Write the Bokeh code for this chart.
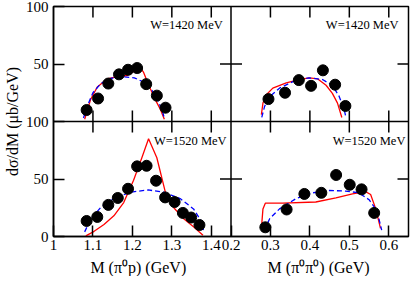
import numpy as np
from bokeh.plotting import figure
from bokeh.layouts import column
from bokeh.models import Range1d, LinearAxis, FixedTicker, Span
from bokeh.embed import file_html
from bokeh.resources import INLINE
from bokeh.core.properties import value

# ---------------- axes / ticks ----------------
left_ticks = [1.0, 1.1, 1.2, 1.3, 1.4]
left_tick_labels = ["1", "1.1", "1.2", "1.3", "1.4"]
right_ticks = [0.2, 0.3, 0.4, 0.5, 0.6]
right_tick_labels = ["0.2", "0.3", "0.4", "0.5", "0.6"]
y_ticks = [0, 50, 100]
y_tick_labels = ["0", "50", "100"]

left_lim = (1.0, 1.45)
right_lim = (0.2, 0.65)
y_lim = (0, 100)

ylabel = "dσ/dM (μb/GeV)"
xlabel_left = "M (π⁰p) (GeV)"
xlabel_right = "M (π⁰π⁰) (GeV)"
title_top = "W=1420 MeV"
title_bottom = "W=1520 MeV"

# ---------------- data: W=1420, M(pi0 p) ----------------
tl_x = [1.084, 1.113, 1.139, 1.166, 1.189, 1.212, 1.235, 1.262, 1.284]
tl_y = [10, 20, 33, 41, 45, 46.5, 32.5, 22.5, 12]
tl_blue_x = [1.076, 1.085, 1.100, 1.120, 1.145, 1.175, 1.205, 1.230, 1.250, 1.265, 1.276, 1.281]
tl_blue_y = [3, 13, 25, 33, 37.5, 39, 38, 34, 27, 18, 9, 3]
tl_red_x = [1.079, 1.094, 1.111, 1.136, 1.161, 1.187, 1.205, 1.218, 1.228, 1.241, 1.258, 1.271, 1.281]
tl_red_y = [2, 19, 30, 37, 39, 40, 44, 48, 43, 32, 19, 10.5, 2]

# ---------------- data: W=1420, M(pi0 pi0) ----------------
tr_x = [0.295, 0.337, 0.372, 0.403, 0.433, 0.464, 0.490]
tr_y = [19.5, 25, 36, 31, 44.5, 32, 13.5]
tr_blue_x = [0.278, 0.285, 0.298, 0.323, 0.365, 0.398, 0.432, 0.457, 0.474, 0.487, 0.491]
tr_blue_y = [3.6, 13, 21.5, 29, 36, 38, 36.5, 31.5, 22, 10.5, 4]
tr_red_x = [0.277, 0.281, 0.289, 0.306, 0.340, 0.373, 0.398, 0.420, 0.441, 0.457, 0.470, 0.481]
tr_red_y = [6, 16, 23, 29, 33.5, 36.5, 38, 37, 31.5, 24.5, 16, 3.5]

# ---------------- data: W=1520, M(pi0 p) ----------------
bl_x = [1.084, 1.111, 1.139, 1.163, 1.189, 1.212, 1.236, 1.260, 1.283, 1.307, 1.328, 1.349, 1.370]
bl_y = [13.5, 17, 27.5, 33.5, 41.5, 61, 61.5, 48.5, 34, 30, 20.5, 16.5, 10]
bl_blue_x = [1.079, 1.094, 1.119, 1.153, 1.195, 1.240, 1.279, 1.321, 1.355, 1.376, 1.380]
bl_blue_y = [4, 15, 25, 33, 38.5, 40.5, 38.5, 33, 24, 12.5, 5.5]
bl_red_x = [1.082, 1.103, 1.128, 1.153, 1.178, 1.203, 1.224, 1.241, 1.262, 1.284, 1.305, 1.330, 1.355, 1.379]
bl_red_y = [0.5, 4.5, 10.5, 18, 29.5, 49, 68.5, 85, 68.5, 38, 25, 15.5, 8.5, 1]

# ---------------- data: W=1520, M(pi0 pi0) ----------------
br_x = [0.287, 0.341, 0.386, 0.429, 0.4665, 0.501, 0.531, 0.563]
br_y = [8, 23.5, 37, 38, 53.5, 45, 41, 20.5]
br_blue_x = [0.285, 0.298, 0.323, 0.365, 0.407, 0.449, 0.491, 0.524, 0.550, 0.567, 0.575, 0.582]
br_blue_y = [5.5, 15.5, 24, 33, 38, 40, 39.5, 38, 32, 24, 15.5, 5.5]
br_red_x = [0.278, 0.281, 0.287, 0.331, 0.415, 0.466, 0.508, 0.541, 0.554, 0.567, 0.579]
br_red_y = [11, 24, 29, 29, 30, 33.5, 37, 39, 36.5, 24, 7]

# ---------------- figure with four panels via extra ranges ----------------
lw = left_lim[1] - left_lim[0]
rw = right_lim[1] - right_lim[0]
yh = y_lim[1] - y_lim[0]

BORDER_L = 48
FRAME_W = 355

x_main = Range1d(left_lim[0], left_lim[1] + rw)
x_right = Range1d(right_lim[0] - lw, right_lim[1])

p = figure(frame_width=FRAME_W, frame_height=230,
           x_range=x_main, y_range=Range1d(y_lim[0], y_lim[1] + yh),
           x_axis_type=None, y_axis_type=None,
           output_backend="svg", toolbar_location=None,
           min_border_left=BORDER_L, min_border_right=2, min_border_top=6, min_border_bottom=22)
p.extra_x_ranges = {"r": x_right}
p.extra_y_ranges = {"t": Range1d(y_lim[0] - yh, y_lim[1])}
p.outline_line_color = "black"
p.outline_line_width = 1.5
p.background_fill_color = "white"
p.border_fill_color = "white"

serif = "Liberation Serif"

# tick positions on default ranges
x_pos = [round(t, 6) for t in left_ticks] + [round(left_lim[1] + (t - right_lim[0]), 6) for t in right_ticks]
x_lab = left_tick_labels + right_tick_labels
x_over = {pos: lab for pos, lab in zip(x_pos, x_lab)}

y_pos = [float(t) for t in y_ticks] + [float(y_lim[1] + t) for t in y_ticks[1:]]
y_lab = y_tick_labels + y_tick_labels[1:]
y_over = {pos: lab for pos, lab in zip(y_pos, y_lab)}


def style(ax):
    ax.major_tick_in = 11
    ax.major_tick_out = 0
    ax.minor_tick_line_color = None
    ax.axis_line_color = "black"
    ax.axis_line_width = 1.5
    ax.major_tick_line_color = "black"
    ax.major_tick_line_width = 1.5
    ax.major_label_text_font = serif
    ax.major_label_text_color = "black"
    ax.major_label_text_font_size = "15px"
    return ax


below = style(LinearAxis(ticker=FixedTicker(ticks=x_pos), major_label_overrides=x_over))
below.major_label_standoff = 3
p.add_layout(below, "below")

left = style(LinearAxis(ticker=FixedTicker(ticks=y_pos), major_label_overrides=y_over))
left.major_label_standoff = 5
left.axis_label = ylabel
left.axis_label_text_font = serif
left.axis_label_text_font_size = "16px"
left.axis_label_text_font_style = "normal"
left.axis_label_text_color = "black"
left.axis_label_standoff = 2
p.add_layout(left, "left")

# panel dividers
p.add_layout(Span(location=left_lim[1], dimension="height", line_color="black", line_width=1.5))
p.add_layout(Span(location=y_lim[1], dimension="width", line_color="black", line_width=1.5))

# inward ticks on the internal dividers and on the top / right frame edges
# (dash markers centred on the line; the frame clips the outer half at the edges)
tick_kw = dict(marker="dash", size=22, line_color="black", line_width=1.5)
inner_x = [t for t in x_pos if t not in (left_lim[0], left_lim[1])]
for yy in (y_lim[1], y_lim[1] + yh):
    p.scatter(x=inner_x, y=[yy] * len(inner_x), angle=np.pi / 2, **tick_kw)
inner_y = [t for t in y_pos if t % yh != 0]
for xx in (left_lim[1], left_lim[1] + rw):
    p.scatter(x=[xx] * len(inner_y), y=inner_y, **tick_kw)

RED = "#ff0000"
BLUE = "#0000ff"


def panel(xs, ys, bx, by, rx, ry, xr, yr):
    kw = {}
    if xr:
        kw["x_range_name"] = xr
    if yr:
        kw["y_range_name"] = yr
    p.line(rx, ry, line_color=RED, line_width=1.3, **kw)
    p.line(bx, by, line_color=BLUE, line_width=1.3, line_dash="5 3", **kw)
    p.scatter(xs, ys, size=11, fill_color="black", line_color="black", **kw)


panel(tl_x, tl_y, tl_blue_x, tl_blue_y, tl_red_x, tl_red_y, None, "t")
panel(tr_x, tr_y, tr_blue_x, tr_blue_y, tr_red_x, tr_red_y, "r", "t")
panel(bl_x, bl_y, bl_blue_x, bl_blue_y, bl_red_x, bl_red_y, None, None)
panel(br_x, br_y, br_blue_x, br_blue_y, br_red_x, br_red_y, "r", None)

tkw = dict(text_font=value(serif), text_font_size=value("12.5px"), text_color="black",
           text_align="left", text_baseline="middle")
p.text(x=[1.245], y=[84], text=[title_top], y_range_name="t", **tkw)
p.text(x=[0.4405], y=[84], text=[title_top], x_range_name="r", y_range_name="t", **tkw)
p.text(x=[1.2546], y=[83], text=[title_bottom], **tkw)
p.text(x=[0.458], y=[83], text=[title_bottom], x_range_name="r", **tkw)

# ---------------- strip under the panels holding the two x-axis titles ----------------
q = figure(frame_width=FRAME_W, frame_height=18, x_range=x_main, y_range=Range1d(0, 1),
           x_axis_type=None, y_axis_type=None, output_backend="svg", toolbar_location=None,
           min_border_left=BORDER_L, min_border_right=2, min_border_top=0, min_border_bottom=0)
q.extra_x_ranges = {"r": x_right}
q.outline_line_color = None
q.grid.visible = False
lab_kw = dict(text_font=value(serif), text_font_size=value("16px"), text_color="black",
              text_align="center", text_baseline="middle")
q.text(x=[(left_lim[0] + left_lim[1]) / 2 - 0.01], y=[0.5], text=[xlabel_left], **lab_kw)
q.text(x=[(right_lim[0] + right_lim[1]) / 2 - 0.003], y=[0.5], text=[xlabel_right],
       x_range_name="r", **lab_kw)

layout = column(p, q, spacing=0)
open("out.html", "w").write(file_html(layout, INLINE))
